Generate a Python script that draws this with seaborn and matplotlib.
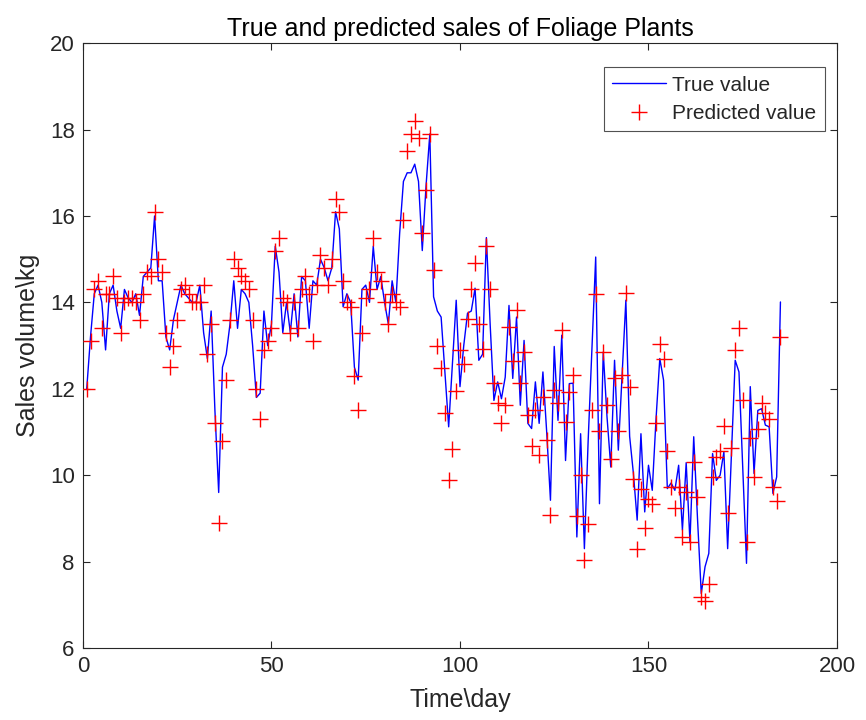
import numpy as np
import pandas as pd
import matplotlib
matplotlib.use("Agg")
import matplotlib.pyplot as plt
import seaborn as sns
from matplotlib.lines import Line2D

true_vals = [12.0, 13.2, 14.2, 14.4, 14.0, 12.9, 14.2, 14.4, 13.8, 13.4,
             14.3, 14.1, 14.0, 14.2, 13.7, 14.6, 14.7, 14.8, 16.0, 14.5,
             14.5, 13.2, 12.9, 13.6, 14.0, 14.4, 14.2, 14.1, 14.0, 14.0,
             14.4, 13.3, 12.7, 13.8, 11.5, 9.6, 12.5, 12.8, 13.5, 14.5,
             13.4, 14.3, 14.2, 14.0, 13.0, 11.8, 11.9, 13.8, 13.0, 13.5,
             15.3, 14.7, 13.3, 14.0, 13.3, 14.2, 13.2, 14.6, 14.5, 13.4,
             14.5, 14.4, 15.0, 14.8, 14.5, 14.8, 16.1, 15.7, 13.9, 14.2,
             14.0, 12.5, 12.2, 14.3, 14.4, 14.0, 15.3, 14.3, 14.6, 14.0,
             13.5, 14.5, 14.0, 15.6, 16.8, 17.0, 17.0, 17.2, 16.8, 15.2,
             16.7, 17.9, 14.13, 13.8, 13.66, 12.4, 11.12, 12.6, 14.05, 12.05,
             13.0, 13.75, 13.8, 14.33, 12.66, 12.8, 15.5, 13.5, 11.73, 12.16,
             11.77, 12.27, 13.93, 12.24, 13.66, 11.62, 13.12, 11.2, 11.08, 12.16,
             11.2, 12.39, 11.0, 9.42, 12.98, 11.27, 13.24, 10.34, 12.12, 12.13,
             8.57, 10.96, 8.3, 10.8, 12.9, 15.05, 9.34, 12.85, 11.35, 10.19,
             12.66, 10.58, 12.3, 14.05, 10.9, 10.04, 8.96, 10.96, 9.15, 10.23,
             9.65, 11.3, 12.7, 12.2, 9.69, 9.82, 9.65, 10.23, 8.73, 10.29,
             8.46, 10.89, 9.0, 7.26, 7.88, 8.19, 10.5, 9.88, 10.0, 10.54,
             8.3, 10.5, 12.66, 12.39, 10.2, 7.96, 12.05, 10.04, 11.5, 11.54,
             11.16, 11.12, 9.58, 9.96, 14.01]

pred_vals = [12.0, 13.1, 14.3, 14.5, 13.4, 14.2, 14.2, 14.6, 14.1, 13.3,
             14.0, 14.1, 14.1, 14.0, 13.6, 14.2, 14.7, 14.6, 16.1, 15.0,
             14.7, 13.3, 12.5, 13.0, 13.6, 14.3, 14.4, 14.2, 14.0, 14.0,
             14.0, 14.4, 12.8, 13.5, 11.2, 8.9, 10.8, 12.2, 13.6, 15.0,
             14.8, 14.6, 14.5, 14.3, 13.6, 12.0, 11.3, 12.9, 13.1, 13.4,
             15.2, 15.5, 14.1, 14.0, 13.3, 14.0, 13.4, 14.3, 14.6, 14.2,
             13.1, 14.4, 15.1, 14.8, 14.4, 15.0, 16.4, 16.1, 14.5, 14.0,
             13.9, 12.3, 11.5, 13.3, 14.1, 14.3, 15.5, 14.7, 14.5, 14.0,
             13.5, 14.2, 14.0, 13.9, 15.9, 17.5, 17.9, 18.2, 17.8, 15.6,
             16.6, 17.9, 14.76, 13.0, 12.48, 11.43, 9.88, 10.6, 11.96, 12.9,
             12.57, 13.62, 14.3, 14.92, 13.5, 12.93, 15.3, 14.32, 12.14, 11.67,
             11.21, 11.63, 13.43, 12.64, 13.83, 12.14, 12.85, 11.39, 10.67, 11.5,
             10.46, 11.81, 10.81, 9.09, 11.98, 11.66, 13.35, 11.23, 11.93, 12.31,
             9.05, 10.0, 8.03, 8.88, 11.5, 14.19, 11.02, 12.85, 11.62, 10.37,
             12.24, 11.02, 12.31, 14.22, 12.05, 9.92, 8.30, 9.69, 8.77, 9.46,
             9.34, 11.21, 13.03, 12.7, 10.56, 9.73, 9.23, 9.73, 8.57, 9.61,
             8.46, 10.31, 9.5, 7.17, 7.09, 7.49, 9.96, 10.41, 10.56, 11.14,
             9.13, 10.62, 12.89, 13.4, 11.74, 8.46, 10.87, 9.95, 11.08, 11.66,
             11.45, 11.31, 9.73, 9.41, 13.2]

days = list(range(1, len(true_vals) + 1))
df = pd.DataFrame({"day": days, "true": true_vals, "pred": pred_vals})

sns.set_style("white")
plt.rcParams['font.family'] = ['Liberation Sans', 'DejaVu Sans']

fig = plt.figure(figsize=(8.66, 7.2), dpi=100)
ax = fig.add_axes([0.0958, 0.100, 0.8707, 0.840])

sns.lineplot(data=df, x="day", y="true", ax=ax, color="#0000FF", linewidth=1.0)
sns.scatterplot(data=df, x="day", y="pred", ax=ax, marker="+", color="#FF0000",
                s=135, linewidth=1.0, zorder=3)

ax.set_xlim(0, 200)
ax.set_ylim(6, 20)
ax.set_xticks([0, 50, 100, 150, 200])
ax.set_yticks([6, 8, 10, 12, 14, 16, 18, 20])
ax.tick_params(direction="in", length=5, width=0.8, labelsize=16, colors="#262626",
               top=True, right=True, bottom=True, left=True, pad=6)
for sp in ax.spines.values():
    sp.set_color("#262626")
    sp.set_linewidth(0.8)
    sp.set_visible(True)

ax.set_xlabel("Time\\day", fontsize=18, color="#262626", labelpad=8)
ax.set_ylabel("Sales volume\\kg", fontsize=18, color="#262626", labelpad=7)
ax.set_title("True and predicted sales of Foliage Plants", fontsize=18,
             color="#000000", pad=5)

handles = [Line2D([], [], color="#0000FF", linewidth=1.0),
           Line2D([], [], color="#FF0000", marker="+", linestyle="None",
                  markersize=12, markeredgewidth=1.0)]
leg = ax.legend(handles, ["True value", "Predicted value"], loc="upper right",
                bbox_to_anchor=(0.984, 0.960), borderaxespad=0, fontsize=15,
                frameon=True, fancybox=False, edgecolor="#262626",
                handlelength=2.6, handletextpad=0.3, borderpad=0.4,
                labelspacing=0.45)
leg.get_frame().set_linewidth(0.8)

fig.savefig("out.png", dpi=100)
